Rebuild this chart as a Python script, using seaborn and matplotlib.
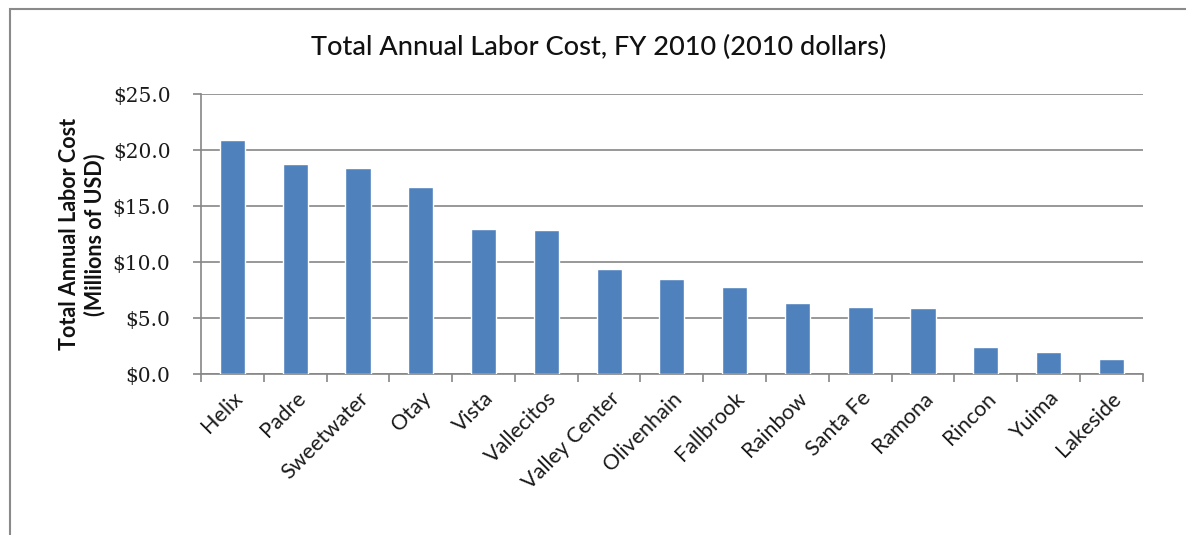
import numpy as np
import pandas as pd
import matplotlib
matplotlib.use("Agg")
import matplotlib.pyplot as plt
from matplotlib.patches import Rectangle
from matplotlib.ticker import FuncFormatter, FixedLocator
import seaborn as sns

# Water districts and their total annual labor cost (millions of USD, FY 2010)
districts = ["Helix", "Padre", "Sweetwater", "Otay", "Vista", "Vallecitos",
             "Valley Center", "Olivenhain", "Fallbrook", "Rainbow", "Santa Fe",
             "Ramona", "Rincon", "Yuima", "Lakeside"]
labor_cost = [20.9, 18.8, 18.4, 16.7, 13.0, 12.9,
              9.4, 8.5, 7.8, 6.4, 6.0,
              5.9, 2.4, 2.0, 1.4]
y_ticks = [0, 5, 10, 15, 20, 25]

title = "Total Annual Labor Cost, FY 2010 (2010 dollars)"
y_label = "Total Annual Labor Cost\n(Millions of USD)"

df = pd.DataFrame({"district": districts, "cost": labor_cost})

sns.set_theme(style="white")
plt.rcParams["font.family"] = ["Lato", "DejaVu Sans"]

bar_color = "#4F81BD"
axis_gray = "#868686"

fig = plt.figure(figsize=(11.86, 5.35), dpi=100)
ax = fig.add_axes([0.1695, 0.3004, 0.794, 0.5233])

sns.barplot(data=df, x="district", y="cost", color=bar_color,
            width=0.4, saturation=1, ax=ax, zorder=3)

ax.set_xlim(-0.5, len(districts) - 0.5)
ax.set_ylim(0, 25)
ax.yaxis.set_major_locator(FixedLocator(y_ticks))
ax.yaxis.set_major_formatter(FuncFormatter(lambda v, _: f"${v:.1f}"))
ax.grid(axis="y", color=axis_gray, linewidth=1.2, zorder=0)
ax.set_axisbelow(True)

for side in ("top", "right"):
    ax.spines[side].set_visible(False)
for side in ("left", "bottom"):
    ax.spines[side].set_color(axis_gray)
    ax.spines[side].set_linewidth(1.2)

# Tick marks sit between categories, labels at category centres
ax.set_xticks(np.arange(-0.5, len(districts) + 0.5, 1.0), minor=True)
ax.tick_params(axis="x", which="major", length=0, pad=10)
ax.tick_params(axis="x", which="minor", length=6, width=1.2, color=axis_gray,
               direction="out", bottom=True)
ax.tick_params(axis="y", which="major", length=6, width=1.2, color=axis_gray,
               direction="out", left=True, pad=16)

ax.set_xticklabels(districts, rotation=45, ha="right", va="top",
                   rotation_mode="anchor", fontsize=15.5, color="#1a1a1a")
for lab in ax.get_yticklabels():
    lab.set_fontfamily(["DejaVu Serif"])
    lab.set_fontsize(14.5)
    lab.set_color("#1a1a1a")

ax.set_xlabel("")
ax.set_ylabel(y_label, fontsize=15.5, fontweight="bold", color="#111111",
              labelpad=5, linespacing=1.25)

fig.text(0.505, 0.912, title, ha="center", va="center", fontsize=19.5,
         fontweight="medium", color="#111111")

# Chart frame
fig.patches.append(Rectangle((10 / 1186, -0.05), 1.2, 1 - 9 / 535 + 0.05,
                             transform=fig.transFigure, fill=False,
                             edgecolor="#8a8a8a", linewidth=1.5))

fig.savefig("out.png", dpi=100, facecolor="white")
